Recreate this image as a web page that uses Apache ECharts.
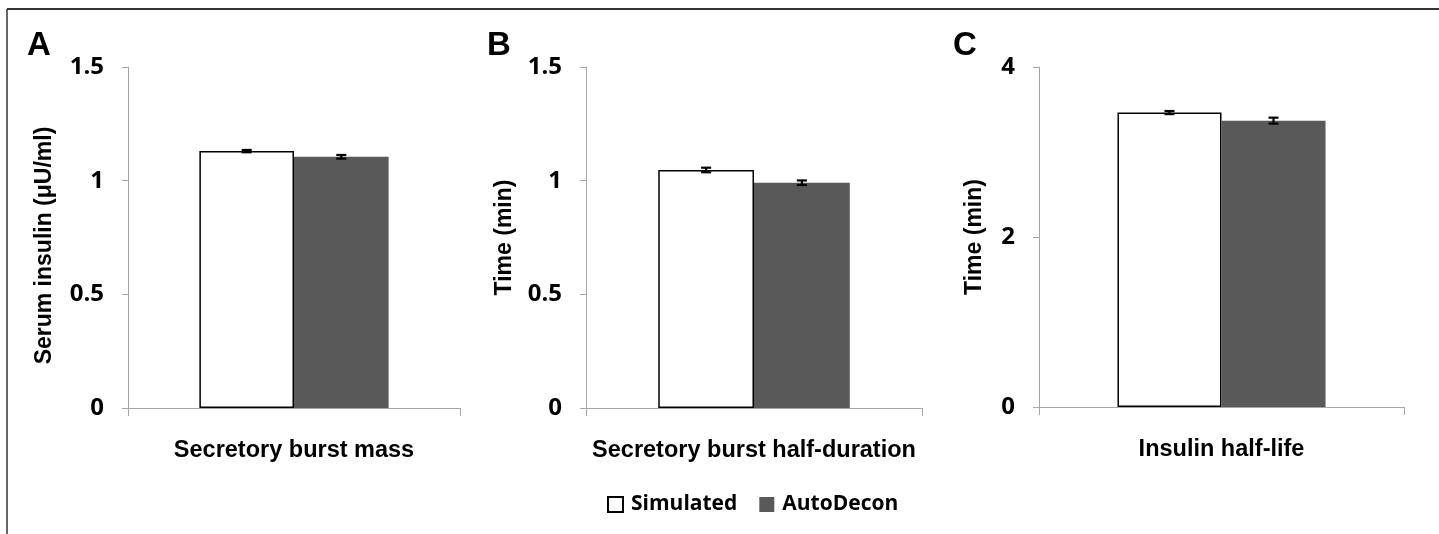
<!DOCTYPE html>
<html>
<head>
<meta charset="utf-8">
<script src="https://cdn.jsdelivr.net/npm/echarts@6/dist/echarts.min.js"></script>
<style>
  html, body { margin: 0; padding: 0; background: #fff; }
  #chart { width: 1439px; height: 534px; }
</style>
</head>
<body>
<div id="chart"></div>
<script>
// one category per panel
const categories = ['Secretory burst mass', 'Secretory burst half-duration', 'Insulin half-life']
const panelLetters = ['A', 'B', 'C']
const yNames = ['Serum insulin (\u03bcU/ml)', 'Time (min)', 'Time (min)']
const yMax = [1.5, 1.5, 4]
const yStep = [0.5, 0.5, 2]

// bar heights
const simulated = [1.13, 1.047, 3.464]
const autoDecon = [1.105, 0.991, 3.369]
// error bars (+/-)
const simulatedErr = [0.005, 0.01, 0.018]
const autoDeconErr = [0.008, 0.01, 0.035]

const BAR_FRAC = 0.285
const grids = [
  { left: 128, top: 67, width: 332, height: 341 },
  { left: 586, top: 67, width: 336, height: 341 },
  { left: 1039, top: 67, width: 365, height: 340 }
]
const nameGaps = [72, 70, 53]
const letterX = [27, 487, 953]

const chart = echarts.init(document.getElementById('chart'))

function renderErr(params, api) {
  const x = api.value(0), mean = api.value(1), err = api.value(2), side = api.value(3)
  const band = api.size([1, 0])[0]
  const dx = side * band * BAR_FRAC / 2
  const hi = api.coord([x, mean + err])
  const lo = api.coord([x, mean - err])
  const cx = hi[0] + dx
  const cap = 5
  const st = { stroke: '#000', lineWidth: 2.2 }
  return {
    type: 'group',
    children: [
      { type: 'line', shape: { x1: cx, y1: hi[1], x2: cx, y2: lo[1] }, style: st },
      { type: 'line', shape: { x1: cx - cap, y1: hi[1], x2: cx + cap, y2: hi[1] }, style: st },
      { type: 'line', shape: { x1: cx - cap, y1: lo[1], x2: cx + cap, y2: lo[1] }, style: st }
    ]
  }
}

const xAxis = [], yAxis = [], series = []
categories.forEach(function (cat, i) {
  xAxis.push({
    type: 'category',
    gridIndex: i,
    data: [cat],
    axisLine: { lineStyle: { color: '#a6a6a6', width: 1 } },
    axisTick: { show: true, length: 8, lineStyle: { color: '#a6a6a6' } },
    axisLabel: {
      margin: 31,
      color: '#000',
      fontFamily: 'Liberation Sans',
      fontWeight: 'bold',
      fontSize: 23.5
    }
  })
  yAxis.push({
    type: 'value',
    gridIndex: i,
    min: 0,
    max: yMax[i],
    interval: yStep[i],
    name: yNames[i],
    nameLocation: 'middle',
    nameGap: nameGaps[i],
    nameTextStyle: {
      color: '#000',
      fontFamily: 'Liberation Sans',
      fontWeight: 'bold',
      fontSize: 23,
      padding: i === 0 ? [0, 16, 0, 0] : 0
    },
    splitLine: { show: false },
    axisLine: { show: true, lineStyle: { color: '#a6a6a6', width: 1 } },
    axisTick: { show: true, length: 6, lineStyle: { color: '#a6a6a6' } },
    axisLabel: {
      margin: 24,
      color: '#000',
      fontFamily: 'Open Sans',
      fontWeight: 'bold',
      fontSize: 24
    }
  })
  series.push({
    name: 'Simulated',
    type: 'bar',
    xAxisIndex: i,
    yAxisIndex: i,
    data: [simulated[i]],
    barWidth: (BAR_FRAC * 100) + '%',
    barGap: '0%',
    itemStyle: { color: '#ffffff', borderColor: '#000', borderWidth: 1.5 }
  })
  series.push({
    name: 'AutoDecon',
    type: 'bar',
    xAxisIndex: i,
    yAxisIndex: i,
    data: [autoDecon[i]],
    barWidth: (BAR_FRAC * 100) + '%',
    barGap: '0%',
    itemStyle: { color: '#595959' }
  })
  series.push({
    name: 'err' + i,
    type: 'custom',
    xAxisIndex: i,
    yAxisIndex: i,
    z: 5,
    encode: { x: 0, y: 1 },
    renderItem: renderErr,
    data: [[0, simulated[i], simulatedErr[i], -1], [0, autoDecon[i], autoDeconErr[i], 1]]
  })
})

const graphic = panelLetters.map(function (l, i) {
  return {
    type: 'text',
    left: letterX[i],
    top: 29,
    style: { text: l, fill: '#000', font: 'bold 33px "Liberation Sans"' }
  }
})
// frame lines (top and left)
graphic.push({ type: 'line', shape: { x1: 7, y1: 9, x2: 1439, y2: 9 }, style: { stroke: '#333', lineWidth: 2 } })
graphic.push({ type: 'line', shape: { x1: 7, y1: 9, x2: 7, y2: 534 }, style: { stroke: '#333', lineWidth: 1.5 } })

chart.setOption({
  animation: false,
  backgroundColor: '#fff',
  grid: grids.map(function (g) { return Object.assign({ outerBoundsMode: 'none' }, g) }),
  xAxis: xAxis,
  yAxis: yAxis,
  legend: {
    data: ['Simulated', 'AutoDecon'],
    left: 602,
    top: 489,
    icon: 'rect',
    itemWidth: 15,
    itemHeight: 15,
    itemGap: 22,
    textStyle: {
      color: '#000',
      fontFamily: 'Open Sans',
      fontWeight: 'bold',
      fontSize: 21,
      padding: [0, 0, 0, 3]
    }
  },
  graphic: graphic,
  series: series
})
</script>
</body>
</html>
